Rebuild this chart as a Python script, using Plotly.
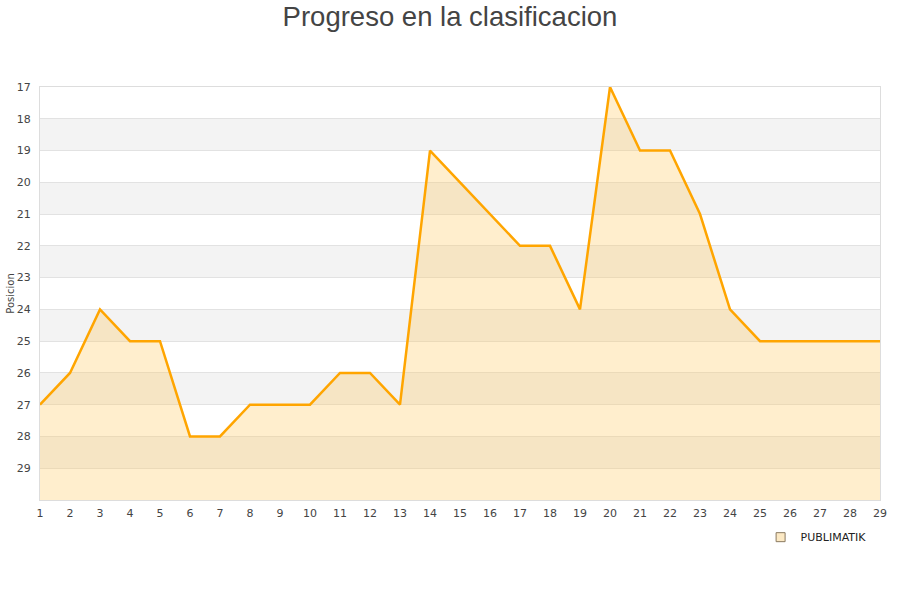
import plotly.graph_objects as go

jornadas = list(range(1, 30))
posiciones = [27, 26, 24, 25, 25, 28, 28, 27, 27, 27, 26, 26, 27, 19, 20, 21, 22, 22, 24, 17,
              19, 19, 21, 24, 25, 25, 25, 25, 25]
equipo = "PUBLIMATIK"
y_ticks = list(range(17, 30))
fondo = 30

fig = go.Figure()

shapes = []
for k in range(18, 30, 2):
    shapes.append(dict(type="rect", xref="paper", yref="y", x0=0, x1=1, y0=k, y1=k + 1,
                       fillcolor="#f3f3f3", line=dict(width=0), layer="below"))

fig.add_trace(go.Scatter(x=jornadas, y=[fondo] * len(jornadas), mode="lines",
                         line=dict(width=0), showlegend=False, hoverinfo="skip"))
fig.add_trace(go.Scatter(x=jornadas, y=posiciones, mode="lines", name=equipo,
                         fill="tonexty", fillcolor="rgba(255,200,90,0.3)",
                         line=dict(color="#FFA500", width=2.5), showlegend=False))
fig.add_trace(go.Scatter(x=[None], y=[None], mode="markers", name=equipo,
                         marker=dict(symbol="square", size=9, color="#FCE9C4",
                                     line=dict(color="#8a7a60", width=1))))

fig.update_layout(
    width=900, height=600,
    paper_bgcolor="white", plot_bgcolor="white",
    margin=dict(l=40, r=20, t=87, b=100, autoexpand=False),
    title=dict(text="Progreso en la clasificacion", x=0.5, xanchor="center", y=0.989, yanchor="top",
               font=dict(family="Liberation Sans, Arial", size=27.5, color="#444")),
    shapes=shapes,
    font=dict(family="DejaVu Sans", size=11, color="#444"),
    legend=dict(x=0.99, xanchor="right", y=-0.09, yanchor="middle", orientation="h",
                font=dict(size=11, color="#222"), bgcolor="rgba(0,0,0,0)"),
    xaxis=dict(range=[1, 29], tickmode="array", tickvals=jornadas, showgrid=False,
               showline=True, linecolor="#ddd", mirror=True, ticks="", zeroline=False,
               tickfont=dict(size=11), automargin=False, ticklabelstandoff=3),
    yaxis=dict(range=[30, 17], tickmode="array", tickvals=y_ticks, showgrid=True,
               gridcolor="#e2e2e2", showline=True, linecolor="#ddd", mirror=True, zeroline=False,
               ticks="", ticklabelstandoff=6, automargin=False,
               title=dict(text="Posicion", font=dict(size=10), standoff=0)),
)

fig.write_html("out.html", config={"displayModeBar": False},
               post_script="document.body.style.margin='0';")
